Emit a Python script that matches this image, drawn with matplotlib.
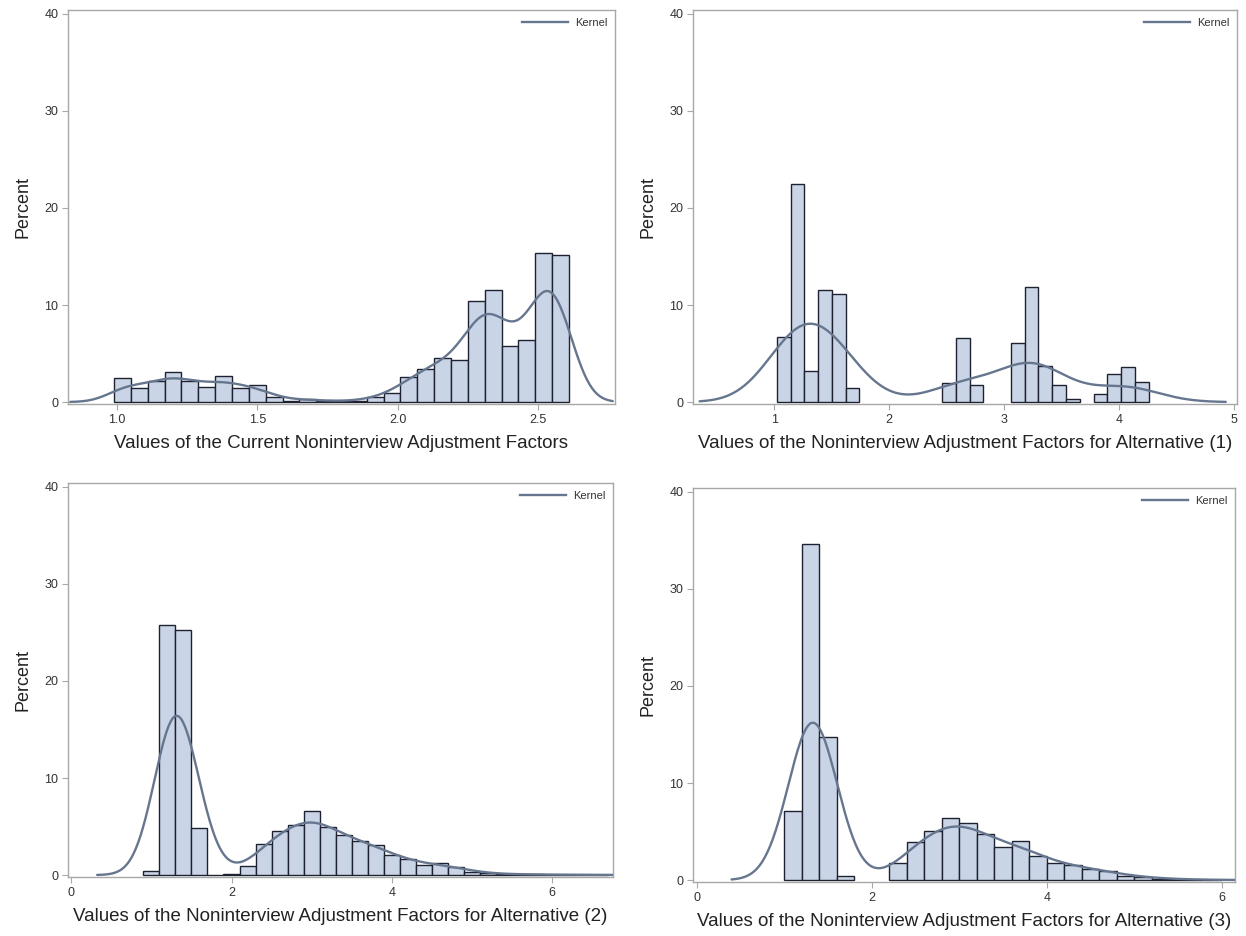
import numpy as np
import matplotlib
matplotlib.use("Agg")
import matplotlib.pyplot as plt
from matplotlib.lines import Line2D

# ---- histogram data (percent of units per bin) ----
# Current noninterview adjustment factors: bins of width 0.06 starting at 0.99
current_start, current_width = 0.99, 0.06
current_pct = [2.5, 1.4, 2.2, 3.1, 2.2, 1.6, 2.7, 1.5, 1.8, 0.5,
               0.15, 0.35, 0.1, 0.1, 0.1, 0.5, 0.9, 2.6, 3.4, 4.5,
               4.3, 10.4, 11.5, 5.8, 6.4, 15.4, 15.2]

# Alternative (1): bins of width 0.12 starting at 1.02
alt1_start, alt1_width = 1.02, 0.12
alt1_pct = [6.7, 22.5, 3.2, 11.5, 11.1, 1.5, 0, 0, 0, 0,
            0, 0, 2.0, 6.6, 1.75, 0, 0, 6.1, 11.9, 3.7,
            1.75, 0.3, 0, 0.8, 2.9, 3.6, 2.1]

# Alternative (2): bins of width 0.2 starting at 0.9
alt2_start, alt2_width = 0.9, 0.2
alt2_pct = [0.4, 25.8, 25.3, 4.9, 0.05, 0.15, 0.9, 3.15, 4.55, 5.2,
            6.6, 5.0, 4.1, 3.5, 3.1, 2.05, 1.7, 1.0, 1.2, 0.85,
            0.35, 0.2, 0.1, 0.08, 0.06, 0.05, 0.04, 0.03, 0.03]

# Alternative (3): bins of width 0.2 starting at 1.0
alt3_start, alt3_width = 1.0, 0.2
alt3_pct = [7.1, 34.6, 14.7, 0.4, 0, 0, 1.8, 3.9, 5.1, 6.4,
            5.9, 4.75, 3.45, 4.0, 2.5, 1.75, 1.55, 1.15, 0.95, 0.45,
            0.35, 0.15, 0.1, 0.05, 0.04]

# kernel bandwidths
bandwidths = [0.065, 0.28, 0.24, 0.25]

x_labels = [
    "Values of the Current Noninterview Adjustment Factors",
    "Values of the Noninterview Adjustment Factors for Alternative (1)",
    "Values of the Noninterview Adjustment Factors for Alternative (2)",
    "Values of the Noninterview Adjustment Factors for Alternative (3)",
]
x_ticks = [[1.0, 1.5, 2.0, 2.5], [1, 2, 3, 4, 5], [0, 2, 4, 6], [0, 2, 4, 6]]
x_tick_labels = [["1.0", "1.5", "2.0", "2.5"], ["1", "2", "3", "4", "5"],
                 ["0", "2", "4", "6"], ["0", "2", "4", "6"]]
x_limits = [(0.826, 2.774), (0.29, 5.03), (-0.04, 6.76), (-0.04, 6.15)]
y_ticks = [0, 10, 20, 30, 40]

FILL = "#C9D4E6"
EDGE = "#1E2230"
KERNEL = "#67768F"
FRAME = "#A8A8A8"
TEXT = "#222222"

plt.rcParams["font.family"] = ["Liberation Sans", "DejaVu Sans"]

W, H = 1246, 936
fig = plt.figure(figsize=(W / 100, H / 100), dpi=100)

# panel frames in pixels: left, right, top, bottom
frames = [(68, 615, 10, 404), (693, 1237, 10, 404),
          (68, 613, 483, 877), (693, 1235, 488, 882)]

panels = [
    (current_start, current_width, current_pct),
    (alt1_start, alt1_width, alt1_pct),
    (alt2_start, alt2_width, alt2_pct),
    (alt3_start, alt3_width, alt3_pct),
]


def kernel_percent(mids, pct, width, h, x):
    z = (x[:, None] - mids[None, :]) / h
    dens = np.exp(-0.5 * z ** 2) / (np.sqrt(2 * np.pi) * h)
    return (dens * pct[None, :]).sum(axis=1) * width


for k, ((start, width, pct), (l, r, t, b)) in enumerate(zip(panels, frames)):
    ax = fig.add_axes([l / W, 1 - b / H, (r - l) / W, (b - t) / H])
    pct = np.asarray(pct, dtype=float)
    edges = start + width * np.arange(len(pct))
    mids = edges + width / 2
    shown = pct > 0
    ax.bar(edges[shown], pct[shown], width=width, align="edge",
           color=FILL, edgecolor=EDGE, linewidth=1.0, zorder=2)

    h = bandwidths[k]
    lo = edges[shown][0] - 2.4 * h
    hi = edges[shown][-1] + width + 2.4 * h
    xs = np.linspace(lo, hi, 600)
    ax.plot(xs, kernel_percent(mids, pct, width, h, xs), color=KERNEL,
            linewidth=1.7, zorder=3, solid_capstyle="round")

    ax.set_xlim(*x_limits[k])
    ax.set_ylim(-0.2, 40.4)
    ax.set_xticks(x_ticks[k])
    ax.set_xticklabels(x_tick_labels[k])
    ax.set_yticks(y_ticks)
    for s in ax.spines.values():
        s.set_color(FRAME)
        s.set_linewidth(1.0)
    ax.tick_params(axis="both", colors=FRAME, length=4, width=0.8,
                   labelsize=9, labelcolor="#333333", pad=3)
    ax.set_xlabel(x_labels[k], fontsize=13.5, color=TEXT, labelpad=7)
    ax.set_ylabel("Percent", fontsize=13, color=TEXT, labelpad=9)

    handle = Line2D([], [], color=KERNEL, linewidth=1.7)
    ax.legend([handle], ["Kernel"], loc="upper right", frameon=False,
              fontsize=8, handlelength=4.2, handletextpad=0.6,
              borderaxespad=0.3, labelcolor="#333333")

fig.savefig("out.png", dpi=100, facecolor="white")
